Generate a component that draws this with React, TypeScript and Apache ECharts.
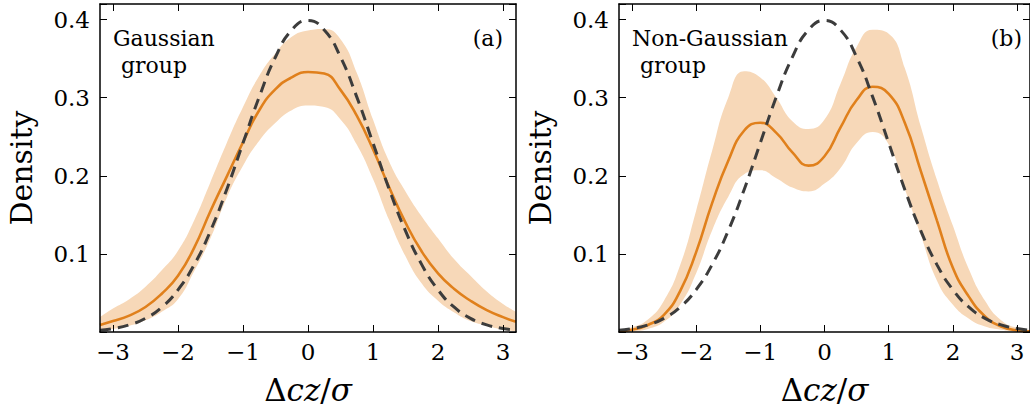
import React, { useEffect, useRef } from "react";
import * as echarts from "echarts";

const xs = [-3.2, -3, -2.75, -2.5, -2.25, -2, -1.75, -1.5, -1.25, -1, -0.75, -0.5, -0.25, 0, 0.25, 0.5, 0.75, 1, 1.25, 1.5, 1.75, 2, 2.25, 2.5, 2.75, 3, 3.2];

const gauss = [0.0024, 0.0044, 0.0091, 0.0175, 0.0317, 0.054, 0.0863, 0.1295, 0.1826, 0.242, 0.3011, 0.3521, 0.3867, 0.3989, 0.3867, 0.3521, 0.3011, 0.242, 0.1826, 0.1295, 0.0863, 0.054, 0.0317, 0.0175, 0.0091, 0.0044, 0.0024];

const leftMean = [0.009, 0.014, 0.021, 0.032, 0.049, 0.072, 0.108, 0.155, 0.199, 0.243, 0.284, 0.311, 0.326, 0.333, 0.331, 0.31, 0.277, 0.234, 0.185, 0.14, 0.103, 0.075, 0.055, 0.04, 0.028, 0.019, 0.013];
const leftUpper = [0.019, 0.03, 0.042, 0.058, 0.079, 0.104, 0.143, 0.192, 0.242, 0.288, 0.328, 0.357, 0.378, 0.386, 0.388, 0.375, 0.332, 0.272, 0.218, 0.18, 0.148, 0.12, 0.093, 0.072, 0.052, 0.036, 0.026];
const leftLower = [0.002, 0.004, 0.008, 0.015, 0.026, 0.042, 0.078, 0.12, 0.172, 0.213, 0.245, 0.268, 0.284, 0.29, 0.288, 0.272, 0.24, 0.196, 0.143, 0.097, 0.062, 0.04, 0.025, 0.014, 0.008, 0.003, 0.001];

const rightMean = [0.001, 0.003, 0.009, 0.022, 0.052, 0.102, 0.165, 0.219, 0.258, 0.268, 0.255, 0.23, 0.213, 0.225, 0.262, 0.297, 0.314, 0.305, 0.268, 0.206, 0.143, 0.082, 0.045, 0.02, 0.007, 0.002, 0.001];
const rightUpper = [0.003, 0.006, 0.016, 0.04, 0.085, 0.155, 0.232, 0.3, 0.334, 0.326, 0.3, 0.27, 0.26, 0.272, 0.318, 0.365, 0.387, 0.382, 0.338, 0.263, 0.195, 0.136, 0.08, 0.04, 0.015, 0.005, 0.002];
const rightLower = [0.0, 0.001, 0.004, 0.013, 0.035, 0.075, 0.13, 0.173, 0.202, 0.207, 0.197, 0.185, 0.18, 0.19, 0.21, 0.242, 0.256, 0.24, 0.183, 0.124, 0.066, 0.035, 0.017, 0.007, 0.003, 0.001, 0.0];

const xTicks = [-3, -2, -1, 0, 1, 2, 3];
const panelLabels = ["(a)", "(b)"];
const groupLabels = [["Gaussian", "group"], ["Non-Gaussian", "group"]];

const FONT = "DejaVu Serif";
const ORANGE = "#e0801c";
const BAND = "#f7d8b8";
const DASH = "#3c3c3c";

export default function App() {
  const ref = useRef<HTMLDivElement>(null);
  useEffect(() => {
    if (!ref.current) return;
    const chart = echarts.init(ref.current, null, { renderer: "svg" });
    const grids = [
      { left: 100, top: 4, width: 416, height: 329 },
      { left: 619, top: 4, width: 416, height: 329 },
    ];
    const panels = [
      { mean: leftMean, upper: leftUpper, lower: leftLower },
      { mean: rightMean, upper: rightUpper, lower: rightLower },
    ];
    const axisLine = { show: true, onZero: false, lineStyle: { color: "#000", width: 1.5 } };
    const tick = { show: true, inside: true, length: 7, lineStyle: { color: "#000", width: 1 } };
    const xAxes: any[] = [];
    const yAxes: any[] = [];
    const series: any[] = [];
    grids.forEach((_, i) => {
      xAxes.push({
        type: "value", gridIndex: i, min: -3.2, max: 3.2, position: "bottom", z: 10,
        axisLine, splitLine: { show: false },
        axisTick: { ...tick, customValues: xTicks },
        axisLabel: {
          customValues: xTicks, color: "#000", fontFamily: FONT, fontSize: 23, margin: 8,
          formatter: (v: number) => (v < 0 ? "\u2212" + Math.abs(v) : String(v)),
        },
        name: "{u|\u0394}{i|cz}{u|/}{i|\u03c3}", nameLocation: "middle", nameGap: 42,
        nameTextStyle: {
          rich: {
            u: { fontFamily: FONT, fontSize: 31, color: "#000" },
            i: { fontFamily: FONT, fontStyle: "italic", fontSize: 31, color: "#000" },
          },
        },
      });
      xAxes.push({
        type: "value", gridIndex: i, min: -3.2, max: 3.2, position: "top", z: 10,
        axisLine, splitLine: { show: false },
        axisTick: { ...tick, customValues: xTicks },
        axisLabel: { show: false },
      });
      yAxes.push({
        type: "value", gridIndex: i, min: 0, max: 0.42, interval: 0.1, position: "left", z: 10,
        axisLine, splitLine: { show: false }, axisTick: tick,
        axisLabel: {
          color: "#000", fontFamily: FONT, fontSize: 23, margin: 10,
          formatter: (v: number) => (v > 0.05 && Math.abs(v * 10 - Math.round(v * 10)) < 1e-6 ? v.toFixed(1) : ""),
        },
        name: "Density", nameLocation: "middle", nameGap: 64,
        nameTextStyle: { fontFamily: FONT, fontSize: 30, color: "#000" },
      });
      yAxes.push({
        type: "value", gridIndex: i, min: 0, max: 0.42, interval: 0.1, position: "right", z: 10,
        axisLine, splitLine: { show: false }, axisTick: tick, axisLabel: { show: false },
      });
      const p = panels[i];
      const common = { type: "line", xAxisIndex: i * 2, yAxisIndex: i * 2, symbol: "none", smooth: 0.5 };
      // band: upper area filled with band colour, lower area covered with white
      series.push({
        ...common, z: 1,
        data: xs.map((x, j) => [x, p.upper[j]]),
        lineStyle: { opacity: 0, width: 0 },
        areaStyle: { color: BAND, opacity: 1, origin: "start" },
      });
      series.push({
        ...common, z: 1,
        data: xs.map((x, j) => [x, p.lower[j]]),
        lineStyle: { opacity: 0, width: 0 },
        areaStyle: { color: "#fff", opacity: 1, origin: "start" },
      });
      series.push({
        ...common, z: 2,
        data: xs.map((x, j) => [x, p.mean[j]]),
        lineStyle: { color: ORANGE, width: 2.6 },
      });
      series.push({
        ...common, z: 3,
        data: xs.map((x, j) => [x, gauss[j]]),
        lineStyle: { color: DASH, width: 3, type: [11, 7] },
      });
    });
    const textStyle = { font: `22px "${FONT}"`, fill: "#000", verticalAlign: "middle" };
    const graphic: any[] = [];
    grids.forEach((g, i) => {
      graphic.push({ type: "text", z: 20, x: g.left + 13, y: 38, style: { ...textStyle, text: groupLabels[i][0], align: "left" } });
      graphic.push({ type: "text", z: 20, x: g.left + 21, y: 65, style: { ...textStyle, text: groupLabels[i][1], align: "left" } });
      graphic.push({ type: "text", z: 20, x: g.left + g.width - 13, y: 38, style: { ...textStyle, text: panelLabels[i], align: "right" } });
    });
    chart.setOption({
      animation: false,
      backgroundColor: "#fff",
      grid: grids,
      xAxis: xAxes,
      yAxis: yAxes,
      series,
      graphic,
    });
    return () => chart.dispose();
  }, []);
  return (
    <div style={{ position: "absolute", left: 0, top: 0, width: 1030, height: 410, overflow: "hidden" }}>
      <div ref={ref} style={{ width: 1030, height: 410 }} />
    </div>
  );
}
